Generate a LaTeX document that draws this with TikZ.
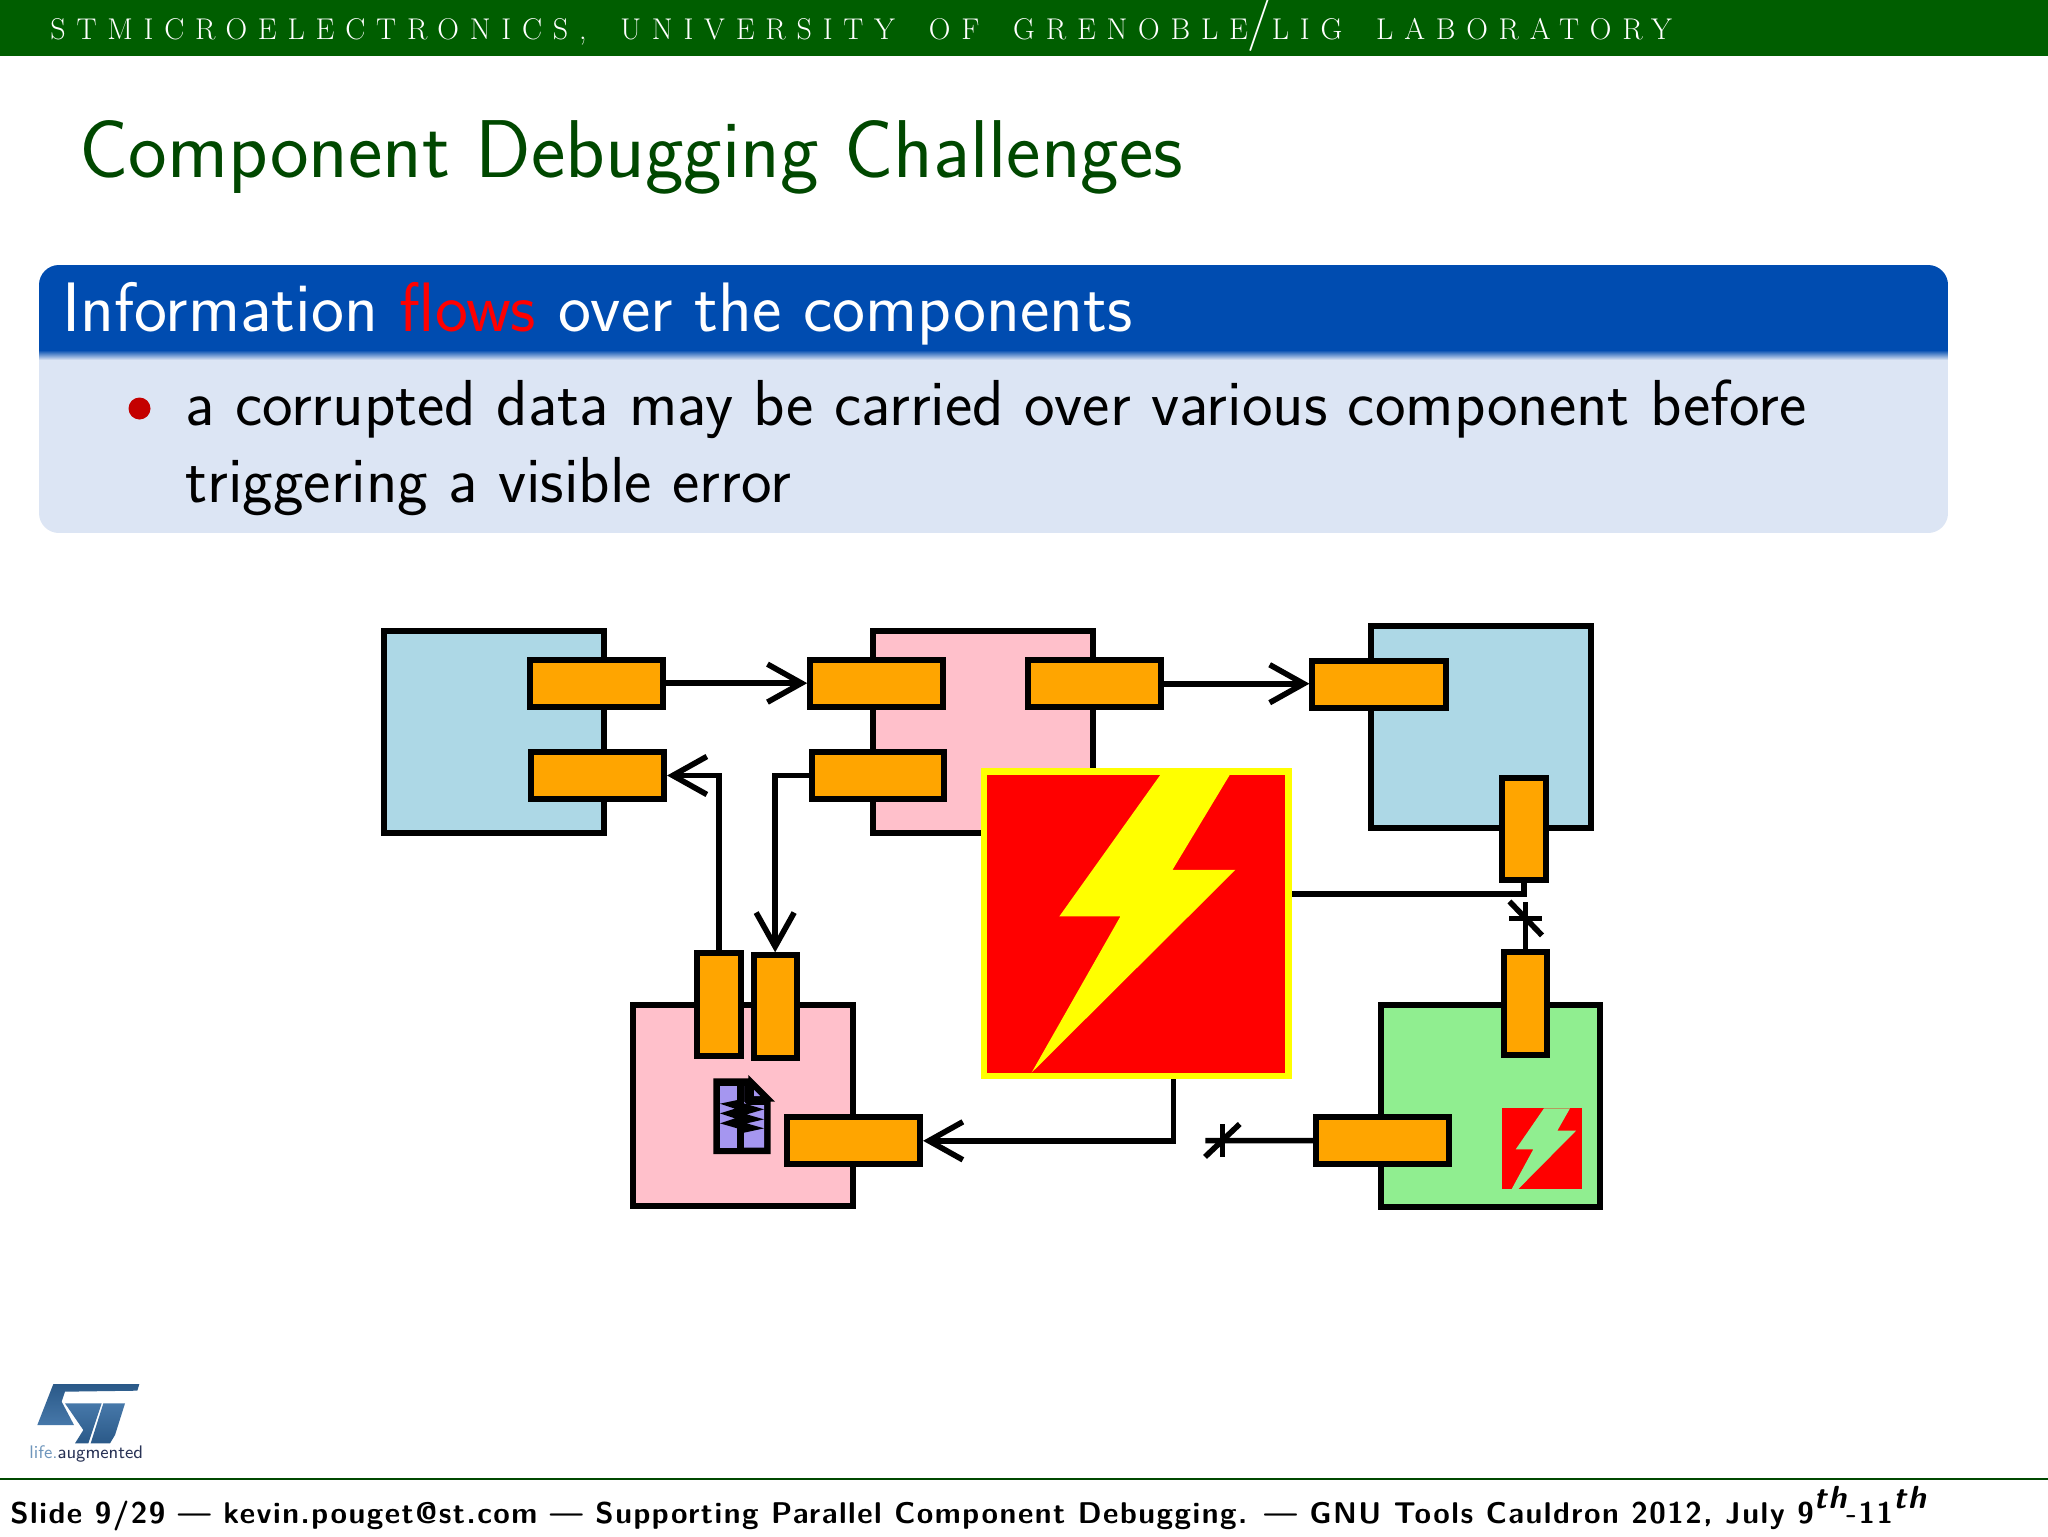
\documentclass[tikz,border=0pt]{standalone}
\usepackage{fontspec}
\setmainfont{Latin Modern Roman}
\setsansfont{Latin Modern Sans}
\usetikzlibrary{arrows.meta}
\definecolor{hdrgreen}{RGB}{0,94,0}
\definecolor{titlegreen}{RGB}{0,72,0}
\definecolor{blockblue}{RGB}{0,76,176}
\definecolor{blockbody}{RGB}{220,229,244}
\definecolor{bulletred}{RGB}{196,0,0}
\definecolor{docfill}{RGB}{165,150,240}
\definecolor{compblue}{HTML}{ADD8E6}
\definecolor{comppink}{HTML}{FFC0CB}
\definecolor{compgreen}{HTML}{90EE90}
\definecolor{portorange}{HTML}{FFA500}
\definecolor{stblue}{RGB}{50,105,160}
\definecolor{stnavy}{RGB}{40,50,85}
\definecolor{pureyellow}{RGB}{255,255,0}
\definecolor{purered}{RGB}{255,0,0}
\newcommand\placebox[6]{%
  \pgfmathsetmacro\bxcx{(#3+#5)/2}%
  \pgfmathsetmacro\bxcy{(#4+#6)/2}%
  \pgfmathsetmacro\bxw{(#5-#3)*0.5}%
  \pgfmathsetmacro\bxh{(#6-#4)*0.5}%
  \node[#1,minimum width=\bxw pt,minimum height=\bxh pt] (#2) at (\bxcx,\bxcy) {};%
}
\newcommand\supth{\raisebox{0.5em}{\fontsize{16}{18}\selectfont\itshape th}}
\begin{document}
\begin{tikzpicture}[x=0.5pt,y=-0.5pt,
  comp/.style={draw=black,line width=3pt,inner sep=0pt},
  portbox/.style={draw=black,fill=portorange,line width=3pt,inner sep=0pt},
  crashbox/.style={draw=pureyellow,fill=purered,line width=3.4pt,inner sep=0pt},
  wire/.style={draw=black,line width=2.8pt},
  arr/.style={wire,-{Straight Barb[length=17pt,width=19pt,line width=2.8pt]}},
  txt/.style={inner sep=0pt,anchor=base west,font=\sffamily},
]
\useasboundingbox (0,0) rectangle (2048,1536);
\fill[white] (0,0) rectangle (2048,1536);
% header
\fill[hdrgreen] (0,0) rectangle (2048,56);
\node[txt,text=white,font=\rmfamily\fontsize{15}{18}\selectfont\addfontfeature{LetterSpace=36}] (hdr) at (50,40)
  {STMICROELECTRONICS,\hspace{7pt} UNIVERSITY\hspace{7pt} OF\hspace{7pt} GRENOBLE{\fontsize{26}{26}\selectfont\raisebox{1pt}{/}}LIG\hspace{7pt} LABORATORY};
\node[txt,text=titlegreen,font=\sffamily\fontsize{41}{46}\selectfont] (title) at (79,177) {Component Debugging Challenges};
% block
\begin{scope}
\clip[rounded corners=10pt] (39,265) rectangle (1948,533);
\fill[blockbody] (39,265) rectangle (1948,533);
\fill[blockblue] (39,265) rectangle (1948,350);
\shade[top color=blockblue,bottom color=blockbody] (39,350) rectangle (1948,360);
\end{scope}
\node[txt,text=white,font=\sffamily\fontsize{35}{40}\selectfont] (blocktitle) at (62,331)
  {Information \textcolor{purered}{flows} over the components};
\fill[bulletred] (139.5,408.5) circle (5.5pt);
\node[txt,text=black,font=\sffamily\fontsize{32.5}{38}\selectfont] (l1) at (185,425)
  {a corrupted data may be carried over various component before};
\node[txt,text=black,font=\sffamily\fontsize{32.5}{38}\selectfont] (l2) at (185,502)
  {triggering a visible error};
% components
\placebox{comp,fill=compblue}{compA}{384.3}{631}{604.4}{833.4}
\placebox{comp,fill=comppink}{compB}{873}{631}{1093.3}{833.4}
\placebox{comp,fill=compblue}{compD}{1370.5}{626.3}{1590.7}{828}
\placebox{comp,fill=comppink}{compC}{633.4}{1004.8}{853.1}{1206}
\placebox{comp,fill=compgreen}{compE}{1380.5}{1005.2}{1600.1}{1207}
% ports
\placebox{portbox}{a1}{530.3}{659.6}{663.4}{706.7}
\placebox{portbox}{a2}{531.2}{752.1}{664.1}{798.9}
\placebox{portbox}{b1}{810.2}{660.3}{943.3}{706.7}
\placebox{portbox}{b2}{811.6}{752.1}{944.1}{798.9}
\placebox{portbox}{b3}{1027.9}{660.3}{1160.9}{707.1}
\placebox{portbox}{d1}{1312.4}{661.1}{1446.3}{707.9}
\placebox{portbox}{d2}{1501.9}{777.8}{1546}{879.9}
\placebox{portbox}{c1}{697.3}{953.4}{741.1}{1055.9}
\placebox{portbox}{c2}{753.5}{955.3}{796.8}{1057.5}
\placebox{portbox}{c3}{786.9}{1117.4}{920.1}{1164.2}
\placebox{portbox}{e1}{1503.7}{952.2}{1547.3}{1054.7}
\placebox{portbox}{e2}{1315.9}{1117.1}{1449.3}{1164.2}
% crash
\placebox{crashbox}{crash}{983.9}{771.4}{1288.7}{1075.9}
\fill[pureyellow] (1160.3,774.9) -- (1229.7,774.9) -- (1172.5,869.8) -- (1235.4,869.8) -- (1031.6,1072.6) -- (1120.4,916.4) -- (1059.3,916.4) -- cycle;
\coordinate (crashR) at (1292.2,893.9);
\coordinate (crashB) at (1173.4,1079.4);
% small crash
\fill[purered] (1501.7,1108.3) rectangle (1582.3,1189);
\fill[compgreen] (1544,1108.3) -- (1570,1108.3) -- (1557.3,1130.7) -- (1576,1130.7) -- (1518.3,1189) -- (1511.7,1189) -- (1533.3,1149.3) -- (1515.7,1149.3) -- cycle;
% connectors
\draw[arr] (a1.east) -- (a1.east -| b1.west);
\draw[arr] (b3.east) -- (b3.east -| d1.west);
\draw[arr] (c1.north) |- (a2.east);
\draw[arr] (b2.west) -| (c2.north);
\draw[arr] (crashB) |- (c3.east);
\draw[wire] (crashR) -| (d2.south);
% broken connector E1
\coordinate (mark1) at (1525.5,902);
\draw[wire] (e1.north) -- (mark1);
\draw[wire] (1509,918.4) -- (1542,918.4);
\draw[wire] (1509.4,901.4) -- (1542,935.4);
% broken connector E2
\coordinate (mark2) at (1205.4,1140.6);
\draw[wire] (e2.west) -- (mark2);
\draw[wire] (1222.4,1124) -- (1222.4,1156.9);
\draw[wire] (1205,1156.9) -- (1239.7,1124);
% doc icon
\begin{scope}[shift={(680,1060)},x=0.1667pt,y=-0.1667pt]
\fill[black] (100,55) -- (205,55) -- (205,45) -- (285,125) -- (272,125) -- (272,282) -- (100,282) -- cycle;
\fill[docfill] (120,78) rectangle (172,263);
\fill[docfill] (192,78) -- (192,125) -- (202,135) -- (252,135) -- (252,263) -- (192,263) -- cycle;
\fill[docfill] (222,90) -- (240,108) -- (222,108) -- cycle;
\fill[black] (172,120) -- (120,131) -- (165,146) -- (120,160) -- (165,175) -- (120,190) -- (172,205) -- (192,218) -- (252,205) -- (200,190) -- (252,178) -- (200,163) -- (252,148) -- (192,130) -- cycle;
\end{scope}
% logo
\begin{scope}[shift={(20,1375)},x=0.1667pt,y=-0.1667pt]
\shade[top color=stblue!85!black,bottom color=stblue!90!white] (100,27) -- (358,27) -- (352,47) -- (135,50) -- (125,80) -- (162,150) -- (52,150) -- cycle;
\shade[top color=stblue!90!white,bottom color=stblue!85!black] (135,85) -- (245,85) -- (205,205) -- (165,205) -- (190,165) -- cycle;
\shade[top color=stblue!90!white,bottom color=stblue!85!black] (250,85) -- (315,85) -- (285,180) -- (270,205) -- (212,205) -- cycle;
\end{scope}
\node[txt,font=\sffamily\fontsize{9.1}{11}\selectfont,text=stnavy] (life) at (29,1458) {\textcolor{stblue!70!white}{life.}augmented};
% footer
\fill[titlegreen] (0,1478) rectangle (2048,1479.5);
\node[txt,font=\sffamily\bfseries\fontsize{15}{18}\selectfont\addfontfeature{LetterSpace=5}] (foot) at (10,1523)
  {Slide 9/29 — kevin.pouget@st.com — Supporting Parallel Component Debugging. — GNU Tools Cauldron 2012, July 9\supth-11\supth};
\end{tikzpicture}
\end{document}
